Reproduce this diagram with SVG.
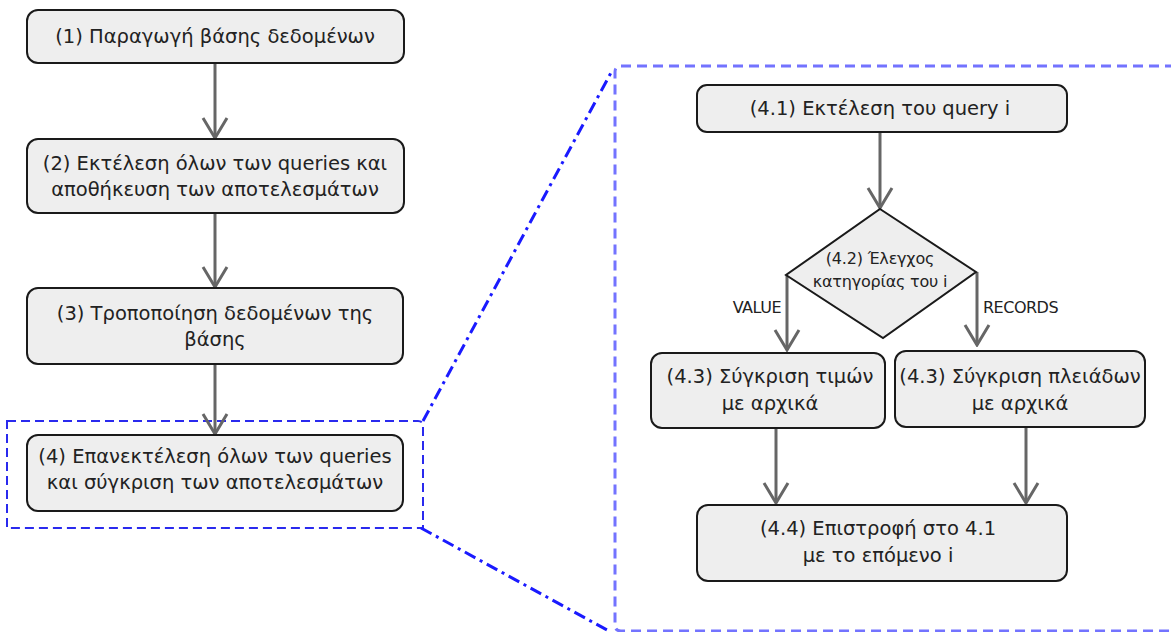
<svg xmlns="http://www.w3.org/2000/svg" width="1171" height="632" viewBox="0 0 1171 632">
<defs>
<marker id="ah" markerWidth="24" markerHeight="30" viewBox="-22 -13 24 26" refX="0" refY="0" markerUnits="userSpaceOnUse" orient="auto">
<path d="M-20,-12 L0,0 L-20,12" fill="none" stroke="#666" stroke-width="3"/>
</marker>
<style>
.box{fill:#eeeeee;stroke:#1a1a1a;stroke-width:2}
.t{font-family:"DejaVu Sans","Noto Sans",sans-serif;font-size:19.5px;fill:#222;text-anchor:middle}
.ts{font-family:"DejaVu Sans","Noto Sans",sans-serif;font-size:16px;fill:#222;text-anchor:middle;letter-spacing:-0.2px}
.lbl{font-family:"DejaVu Sans","Noto Sans",sans-serif;font-size:16px;fill:#222;letter-spacing:-0.5px}
.c{fill:none;stroke:#666;stroke-width:3}
</style>
</defs>
<rect width="1171" height="632" fill="#ffffff"/>
<g id="zoom-frames" fill="none">
<path d="M7,421 H418 Q423,421 423,426 V528 H7 Z" stroke="#2a2aee" stroke-width="2" stroke-dasharray="9,5"/>
<path d="M1175,66 H621 Q615,66 615,72 V625 Q615,631 621,631 H1175" stroke="#5a5aff" stroke-width="3" stroke-dasharray="10,6" opacity="0.85"/>
<line x1="423" y1="421" x2="613" y2="69" stroke="#1a1aff" stroke-width="3" stroke-dasharray="12,5,3,5"/>
<line x1="421" y1="528" x2="607" y2="630" stroke="#1a1aff" stroke-width="3" stroke-dasharray="12,5,3,5"/>
</g>
<g id="connectors">
<line class="c" x1="215" y1="64" x2="215" y2="138" marker-end="url(#ah)"/>
<line class="c" x1="215" y1="213" x2="215" y2="287" marker-end="url(#ah)"/>
<line class="c" x1="215" y1="364" x2="215" y2="434" marker-end="url(#ah)"/>
<line class="c" x1="880" y1="132" x2="880" y2="208" marker-end="url(#ah)"/>
<line class="c" x1="787" y1="275" x2="787" y2="350" marker-end="url(#ah)"/>
<line class="c" x1="977" y1="272" x2="977" y2="345" marker-end="url(#ah)"/>
<line class="c" x1="776" y1="428" x2="776" y2="503" marker-end="url(#ah)"/>
<line class="c" x1="1026" y1="427" x2="1026" y2="503" marker-end="url(#ah)"/>
<text class="lbl" x="781" y="313" text-anchor="end">VALUE</text>
<text class="lbl" x="983" y="313">RECORDS</text>
</g>
<g id="n1">
<rect class="box" x="27" y="10" width="377" height="53" rx="11"/>
<text class="t" x="215" y="43">(1) Παραγωγή βάσης δεδομένων</text>
</g>
<g id="n2">
<rect class="box" x="27" y="139" width="377" height="74" rx="11"/>
<text class="t" x="215" y="170">(2) Εκτέλεση όλων των queries και</text>
<text class="t" x="215" y="196">αποθήκευση των αποτελεσμάτων</text>
</g>
<g id="n3">
<rect class="box" x="27" y="288" width="376" height="76" rx="11"/>
<text class="t" x="215" y="320">(3) Τροποποίηση δεδομένων της</text>
<text class="t" x="215" y="346">βάσης</text>
</g>
<g id="n4">
<rect class="box" x="27" y="435" width="376" height="76" rx="11"/>
<text class="t" x="215" y="463">(4) Επανεκτέλεση όλων των queries</text>
<text class="t" x="215" y="489">και σύγκριση των αποτελεσμάτων</text>
</g>
<g id="n41">
<rect class="box" x="697" y="85" width="370" height="47" rx="10"/>
<text class="t" x="880" y="115">(4.1) Εκτέλεση του query i</text>
</g>
<g id="n42">
<polygon class="box" points="880,209 976,272 883,338 786,275"/>
<text class="ts" x="880" y="264">(4.2) Έλεγχος</text>
<text class="ts" x="880" y="287">κατηγορίας του i</text>
</g>
<g id="n43a">
<rect class="box" x="651" y="353" width="234" height="75" rx="11"/>
<text class="t" x="770" y="383">(4.3) Σύγκριση τιμών</text>
<text class="t" x="770" y="410">με αρχικά</text>
</g>
<g id="n43b">
<rect class="box" x="895" y="351" width="250" height="76" rx="11"/>
<text class="t" x="1020" y="383">(4.3) Σύγκριση πλειάδων</text>
<text class="t" x="1020" y="410">με αρχικά</text>
</g>
<g id="n44">
<rect class="box" x="697" y="505" width="370" height="76" rx="11"/>
<text class="t" x="878" y="535">(4.4) Επιστροφή στο 4.1</text>
<text class="t" x="878" y="562">με το επόμενο i</text>
</g>
</svg>
